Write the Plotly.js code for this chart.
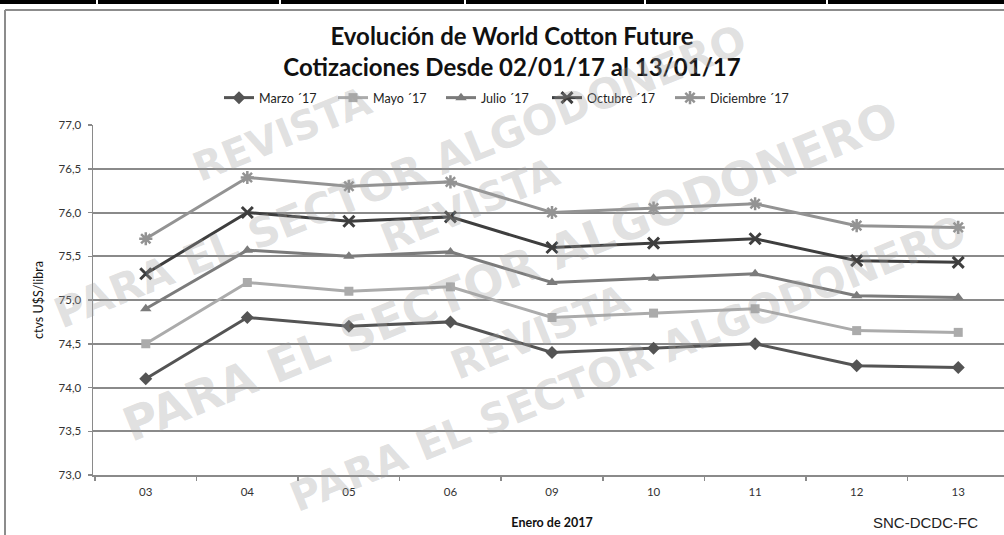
<!DOCTYPE html>
<html>
<head>
<meta charset="utf-8">
<script src="https://cdn.plot.ly/plotly-3.0.1.min.js"></script>
<style>
html,body{margin:0;padding:0;overflow:hidden;background:#fff;}
#chart{width:1011px;height:535px;}
</style>
</head>
<body>
<div id="chart"></div>
<script>
// ---- data ----
const categories = ['03','04','05','06','09','10','11','12','13'];
const seriesNames = ['Marzo ´17','Mayo ´17','Julio ´17','Octubre ´17','Diciembre ´17'];
const marzo     = [74.10, 74.80, 74.70, 74.75, 74.40, 74.45, 74.50, 74.25, 74.23];
const mayo      = [74.50, 75.20, 75.10, 75.15, 74.80, 74.85, 74.90, 74.65, 74.63];
const julio     = [74.90, 75.57, 75.50, 75.55, 75.20, 75.25, 75.30, 75.05, 75.03];
const octubre   = [75.30, 76.00, 75.90, 75.95, 75.60, 75.65, 75.70, 75.45, 75.43];
const diciembre = [75.70, 76.40, 76.30, 76.35, 76.00, 76.05, 76.10, 75.85, 75.83];
const yTicks    = [73.0, 73.5, 74.0, 74.5, 75.0, 75.5, 76.0, 76.5, 77.0];
const titleText = 'Evolución de World Cotton Future<br>Cotizaciones Desde 02/01/17 al 13/01/17';
const yTitle = 'ctvs U$S/libra';
const xTitle = 'Enero de 2017';
const sourceText = 'SNC-DCDC-FC';
const watermarkLines = ['REVISTA','PARA EL SECTOR ALGODONERO'];

// ---- geometry helpers (pixels -> paper) ----
const W = 1011, H = 535, ML = 93, MR = 0, MT = 125, MB = 60;
const PW = W - ML - MR, PH = H - MT - MB;
const px = x => (x - ML) / PW;
const py = y => (H - MB - y) / PH;

const styles = [
  {color:'#545454', symbol:'diamond', size:10, lw:0},
  {color:'#ababab', symbol:'square', size:9, lw:0},
  {color:'#7b7b7b', symbol:'triangle-up', size:10, lw:0},
  {color:'#3e3e3e', symbol:'x-thin', size:11, lw:3},
  {color:'#939393', symbol:'asterisk', size:11, lw:2.5}
];
const values = [marzo, mayo, julio, octubre, diciembre];
const legendIds = ['legend','legend2','legend3','legend4','legend5'];
const legendTextX = [259, 373, 481, 587, 710];   // left edge of each legend label (px)

const traces = values.map((v, i) => ({
  type:'scatter', mode:'lines+markers',
  name: seriesNames[i],
  legend: legendIds[i],
  x: categories, y: v,
  line:{color: styles[i].color, width:3},
  marker:{symbol: styles[i].symbol, size: styles[i].size, color: styles[i].color,
          line:{color: styles[i].color, width: styles[i].lw}}
}));

const gray = '#8a8a8a';

const shapes = [
  {type:'rect', xref:'paper', yref:'paper', x0:px(0), x1:px(W), y0:py(4), y1:py(0),
   fillcolor:'#000', line:{width:0}, layer:'above'},
  {type:'line', xref:'paper', yref:'paper', x0:px(5), x1:px(W), y0:py(10), y1:py(10),
   line:{color:'#8c8c8c', width:2}},
  {type:'line', xref:'paper', yref:'paper', x0:px(5), x1:px(5), y0:py(10), y1:py(H),
   line:{color:'#8c8c8c', width:2}}
];
[97, 280, 465, 645, 827].forEach(x => {
  shapes.push({type:'line', xref:'paper', yref:'paper', x0:px(x), x1:px(x), y0:py(0), y1:py(4),
    line:{color:'#fff', width:2}, layer:'above'});
});

const annotations = [
  {text: sourceText, xref:'paper', yref:'paper', x:px(980), y:py(522), xanchor:'right', yanchor:'middle',
   showarrow:false, font:{family:'Liberation Sans, Arial', size:15, color:'#222'}}
];
const wm = [
  {t:0, x:282, y:134, s:40},
  {t:0, x:470, y:205, s:40},
  {t:0, x:540, y:332, s:40},
  {t:1, x:400, y:176, s:42},
  {t:1, x:510, y:271, s:47},
  {t:1, x:628, y:364, s:41}
];
wm.forEach(w => annotations.push({
  text: watermarkLines[w.t], xref:'paper', yref:'paper', x:px(w.x), y:py(w.y),
  xanchor:'center', yanchor:'middle', showarrow:false, textangle:-22,
  font:{family:'DejaVu Sans', size:w.s, color:'rgba(160,160,160,0.32)', weight:700}
}));

const layout = {
  width:W, height:H,
  margin:{l:ML, r:MR, t:MT, b:MB, pad:0},
  paper_bgcolor:'#fff', plot_bgcolor:'#fff',
  separators:',.',
  showlegend:true,
  title:{text:titleText, xref:'container', yref:'container', x:512/W, xanchor:'center',
         y:1 - 45/H, yanchor:'top',
         font:{family:'Lato', size:24, color:'#111', weight:700}},
  xaxis:{type:'category', showgrid:false, showline:true, linecolor:gray, linewidth:1.5,
         ticks:'outside', tickson:'boundaries', ticklen:4, tickcolor:gray, tickwidth:1.5,
         tickfont:{family:'Lato', size:11.5, color:'#333'}, ticklabelstandoff:6,
         title:{text:xTitle, font:{family:'Lato', size:12.5, color:'#111', weight:700}, standoff:21},
         fixedrange:true},
  yaxis:{range:[73,77], tickvals:yTicks, tickformat:'.1f', showgrid:true, gridcolor:gray, gridwidth:2,
         zeroline:false, showline:true, linecolor:gray, linewidth:1.5,
         ticks:'outside', ticklen:4, tickcolor:gray, tickwidth:1.5,
         tickfont:{family:'Lato', size:11.5, color:'#333'}, ticklabelstandoff:4,
         title:{text:yTitle, font:{family:'Lato', size:12.5, color:'#111'}, standoff:12},
         fixedrange:true},
  shapes:shapes,
  annotations:annotations
};
legendIds.forEach((id, i) => {
  layout[id] = {orientation:'h', x:px(legendTextX[i] - 40), xanchor:'left', y:py(98), yanchor:'middle',
    font:{family:'Lato', size:12.5, color:'#222'}, itemwidth:30, bgcolor:'rgba(0,0,0,0)'};
});

Plotly.newPlot('chart', traces, layout, {staticPlot:true, displayModeBar:false});
</script>
</body>
</html>
